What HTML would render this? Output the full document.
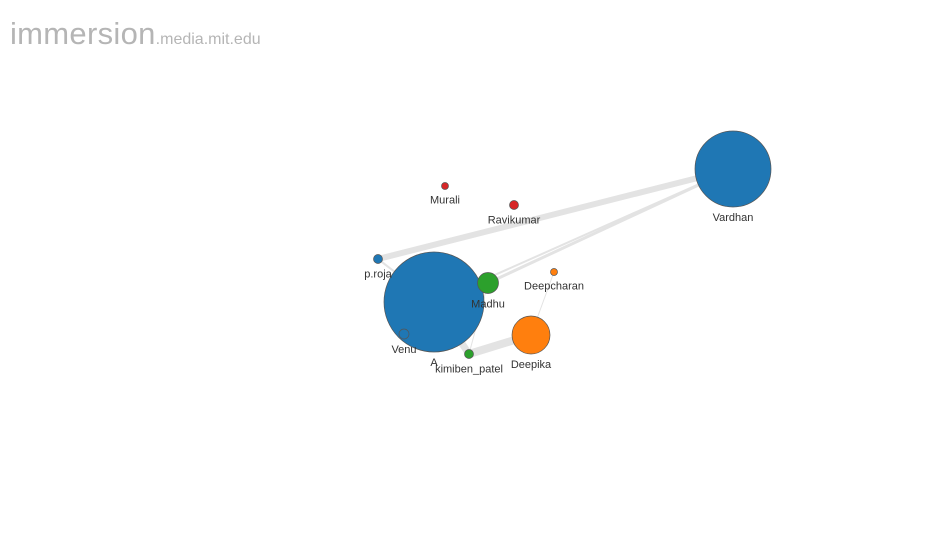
<!DOCTYPE html>
<html><head><meta charset="utf-8"><style>
body{margin:0;background:#fff;width:931px;height:554px;overflow:hidden;font-family:"Liberation Sans",sans-serif}
.logo{position:absolute;left:10px;top:16px;color:#b5b5b5;font-weight:300}
.big{font-size:31px;letter-spacing:0.3px}
.small{font-size:16px;color:#b5b5b5}
svg{position:absolute;left:0;top:0}
</style></head><body>
<div class="logo"><span class="big">immersion</span><span class="small">.media.mit.edu</span></div>
<svg width="931" height="554">
<g id="links"></g><g id="nodes"></g><g id="labels"></g>
</svg>
<script>
const names=["Vardhan","A","p.roja","Madhu","Deepcharan","Deepika","kimiben_patel","Venu","Murali","Ravikumar"];
const xs=[733,434,378,488,554,531,469,404,445,514];
const ys=[169,302,259,283,272,335,354,334,186,205];
const radii=[38,50,4.5,10.5,3.5,19,4.5,5,3.5,4.5];
const colors=["#1f77b4","#1f77b4","#1f77b4","#2ca02c","#ff7f0e","#ff7f0e","#2ca02c","#1f77b4","#d62728","#d62728"];
const linkSrc=[0,0,0,1,6,4,3,1,1];
const linkDst=[2,3,1,6,5,5,6,2,7];
const linkW=[6,3,2,7,8,1,1,2,1];
const NS="http://www.w3.org/2000/svg";
const L=document.getElementById('links'),N=document.getElementById('nodes'),T=document.getElementById('labels');
linkSrc.forEach((s,i)=>{const d=linkDst[i];const l=document.createElementNS(NS,'line');
l.setAttribute('x1',xs[s]);l.setAttribute('y1',ys[s]);l.setAttribute('x2',xs[d]);l.setAttribute('y2',ys[d]);
l.setAttribute('stroke','#e3e3e3');l.setAttribute('stroke-width',linkW[i]);l.setAttribute('stroke-linecap','round');


L.appendChild(l);});
names.forEach((n,i)=>{const c=document.createElementNS(NS,'circle');
c.setAttribute('cx',xs[i]);c.setAttribute('cy',ys[i]);c.setAttribute('r',radii[i]);
c.setAttribute('fill',colors[i]);c.setAttribute('stroke','#555');c.setAttribute('stroke-width','0.7');


N.appendChild(c);
const t=document.createElementNS(NS,'text');t.textContent=n;
t.setAttribute('x',xs[i]);t.setAttribute('y',ys[i]+radii[i]+14);t.setAttribute('text-anchor','middle');
t.setAttribute('font-size','11');t.setAttribute('fill','#333');t.setAttribute('font-family','Liberation Sans, sans-serif');


T.appendChild(t);});
</script>
</body></html>
